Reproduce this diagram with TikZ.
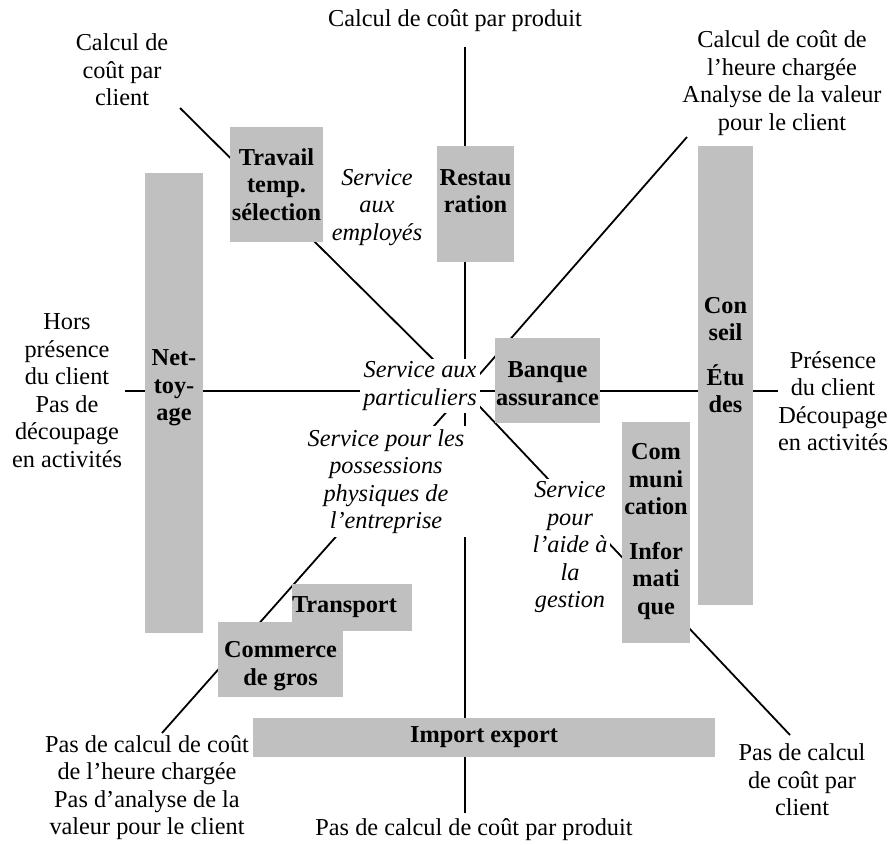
\documentclass[tikz,border=0pt]{standalone}
\usepackage{fontspec}
\setmainfont{Liberation Serif}
\pgfdeclarelayer{bg}
\pgfsetlayers{bg,main}
\definecolor{boxgray}{RGB}{192,192,192}
\newcommand{\fs}{\fontsize{24.3}{27.5}\selectfont}
\newcommand{\bxc}[5]{\parbox[c][#2][c]{#1}{\centering\vspace*{#3}#5\par\vspace*{#4}}}
\begin{document}
\begin{tikzpicture}[x=1pt,y=-1pt,
  lab/.style={align=center, inner sep=2pt, font=\fs},
  labit/.style={lab, font=\fs\itshape},
  wlab/.style={labit, fill=white, inner sep=3pt},
  box/.style={fill=boxgray, inner sep=0pt, font=\fs\bfseries},
  conn/.style={line width=1.8pt}]
\useasboundingbox (0,0) rectangle (891,844);

% grey boxes
\node[box] (travail) at (276.5,184.5) {\bxc{93pt}{115pt}{0pt}{0pt}{Travail\\temp.\\sélection}};
\node[box] (restau) at (475.5,204) {\bxc{77pt}{116pt}{0pt}{26pt}{Restau\\ration}};
\node[box] (net) at (174,403) {\bxc{58pt}{460pt}{0pt}{30pt}{Net-\\toy-\\age}};
\node[box] (banque) at (547.5,380.5) {\bxc{105pt}{85pt}{6pt}{0pt}{Banque\\assurance}};
\node[box] (conseil) at (725.5,375.5) {\bxc{55pt}{459pt}{0pt}{41pt}{Con\\seil\\[17pt]Étu\\des}};
\node[box] (commun) at (656,532.5) {\bxc{68pt}{221pt}{0pt}{2pt}{Com\\muni\\cation\\[17pt]Infor\\mati\\que}};
\node[box] (transport) at (352,607.5) {\parbox[c][47pt][c]{120pt}{\raggedright Transport}};
\node[box] (commerce) at (280.5,659.5) {\bxc{125pt}{75pt}{13pt}{0pt}{Commerce\\de gros}};
\node[box] (import) at (484,737.5) {\bxc{462pt}{39pt}{0pt}{0pt}{Import export}};

% outer labels
\node[lab] (prod) at (455,21) {Calcul de coût par produit};
\node[lab] (client) at (122,70) {Calcul de\\coût par\\client};
\node[lab] (heure) at (782,83) {Calcul de coût de\\l’heure chargée\\Analyse de la valeur\\pour le client};
\node[lab] (hors) at (67,390.5) {Hors\\présence\\du client\\Pas de\\découpage\\en activités};
\node[lab] (pres) at (833,401) {Présence\\du client\\Découpage\\en activités};
\node[lab] (pasheure) at (147,787.5) {Pas de calcul de coût\\de l’heure chargée\\Pas d’analyse de la\\valeur pour le client};
\node[lab] (pasprod) at (474,830) {Pas de calcul de coût par produit};
\node[lab] (pasclient) at (802,780) {Pas de calcul\\de coût par\\client};

% italic sector labels
\node[labit] (employes) at (377,207.5) {Service\\aux\\employés};
\node[wlab] (partic) at (420,386) {Service aux\\particuliers};
\node[wlab] (possess) at (386,481.5) {Service pour les\\possessions\\physiques de\\l’entreprise};
\node[wlab] (aide) at (570,547.5) {Service\\pour\\l’aide à\\la\\gestion};

% axis end points
\coordinate (c) at (465,391);
\coordinate (hl) at (125,391);
\coordinate (hr) at (778,391);
\coordinate (vt) at (465,47);
\coordinate (vb) at (465,813);
\coordinate (dul) at (180,108);
\coordinate (dur) at (687,137);
\coordinate (dll) at (162,733);
\coordinate (dlr) at (790,735);

\begin{pgfonlayer}{bg}
\fill[white] (0,0) rectangle (891,844);
\draw[conn] (hl) -- (hr);
\draw[conn] (vt) -- (vb);
\draw[conn] (dul) -- (c);
\draw[conn] (c) -- (dlr);
\draw[conn] (dur) -- (c);
\draw[conn] (c) -- (dll);
\end{pgfonlayer}
\end{tikzpicture}
\end{document}
